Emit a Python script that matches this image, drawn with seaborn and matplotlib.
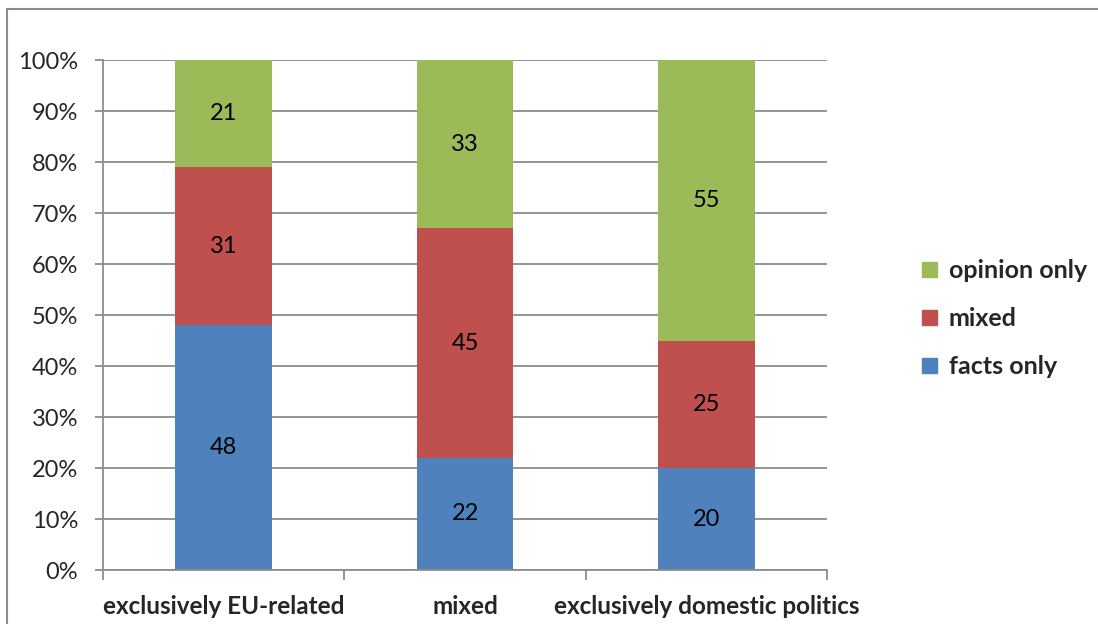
import matplotlib
matplotlib.use("Agg")
import matplotlib.pyplot as plt
from matplotlib.lines import Line2D
from matplotlib.patches import Patch
import pandas as pd
import seaborn as sns

categories = ["exclusively EU-related", "mixed", "exclusively domestic politics"]
facts_only = [48, 22, 20]
mixed = [31, 45, 25]
opinion_only = [21, 33, 55]
series_names = ["facts only", "mixed", "opinion only"]
series_colors = ["#4F81BD", "#C0504D", "#9BBB59"]
y_ticks = [0, 10, 20, 30, 40, 50, 60, 70, 80, 90, 100]

sns.set_style("white")
plt.rcParams["font.family"] = ["Lato", "DejaVu Sans"]

fig = plt.figure(figsize=(10.98, 6.24), dpi=100)
ax = fig.add_axes([0.0938, 0.0865, 0.6594, 0.8173])

# stack the layers bottom-up
bottom = [0, 0, 0]
for name, vals, color in zip(series_names, [facts_only, mixed, opinion_only], series_colors):
    df = pd.DataFrame({"category": categories, "value": vals})
    sns.barplot(data=df, x="category", y="value", color=color, width=0.4,
                bottom=bottom, ax=ax, saturation=1, edgecolor="none", linewidth=0)
    for i, v in enumerate(vals):
        ax.text(i, bottom[i] + v / 2, str(v), ha="center", va="center",
                fontsize=17, color="black")
    bottom = [b + v for b, v in zip(bottom, vals)]

ax.set_ylim(0, 100)
ax.set_xlim(-0.5, 2.5)
ax.set_yticks(y_ticks)
ax.set_yticklabels([f"{t}%" for t in y_ticks], fontsize=17)
ax.yaxis.grid(True, color="#8c8c8c", linewidth=1.3)
ax.set_axisbelow(True)
ax.tick_params(axis="y", length=6, width=1.3, color="#8c8c8c", left=True, pad=12)

ax.set_xticks([-0.5, 0.5, 1.5, 2.5], minor=True)
ax.tick_params(axis="x", which="minor", length=7, width=1.3, color="#8c8c8c", bottom=True)
ax.tick_params(axis="x", which="major", length=0, pad=18)
ax.set_xticklabels(categories, fontsize=17.5, fontweight="bold")
ax.set_xlabel("")
ax.set_ylabel("")

for side in ["top", "right"]:
    ax.spines[side].set_visible(False)
for side in ["left", "bottom"]:
    ax.spines[side].set_color("#8c8c8c")
    ax.spines[side].set_linewidth(1.3)

handles = [Patch(color=c, label=n) for n, c in zip(series_names, series_colors)][::-1]
leg = fig.legend(handles=handles, loc="center left", bbox_to_anchor=(0.840, 0.489),
                 frameon=False, handlelength=0.6, handleheight=0.6, handletextpad=0.45,
                 labelspacing=1.0, borderpad=0, borderaxespad=0,
                 prop={"size": 18, "weight": "bold"})

# outer chart border (top and left only visible)
fig.add_artist(Line2D([0.0064, 1.0], [0.986, 0.986], transform=fig.transFigure,
                      color="#8c8c8c", linewidth=1.5))
fig.add_artist(Line2D([0.0064, 0.0064], [0.0, 0.986], transform=fig.transFigure,
                      color="#8c8c8c", linewidth=1.5))

fig.savefig("out.png", dpi=100)
